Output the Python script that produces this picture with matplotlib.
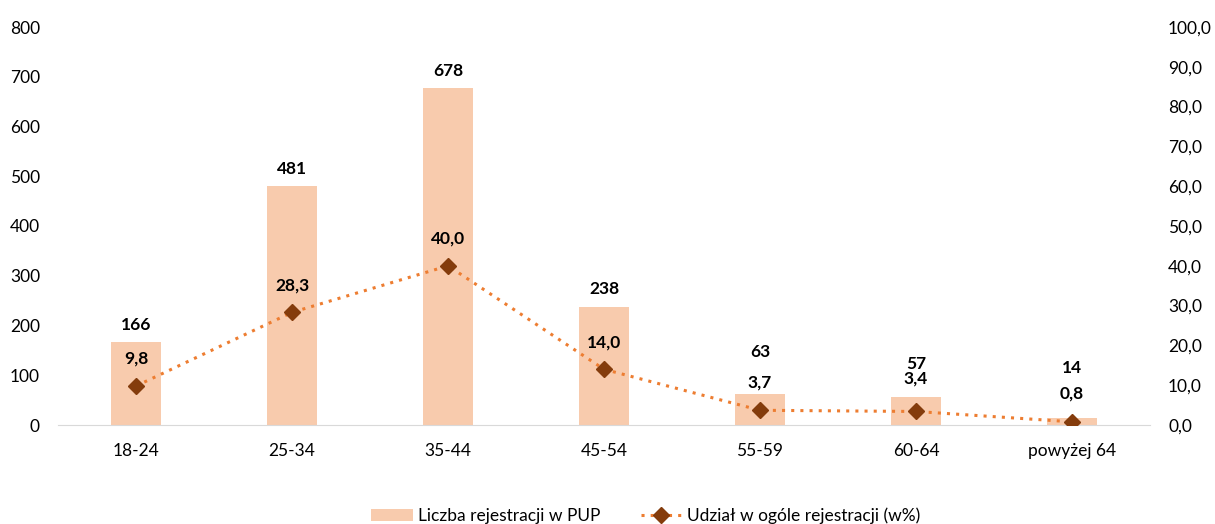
import matplotlib
matplotlib.use("Agg")
import matplotlib.pyplot as plt
from matplotlib.ticker import FuncFormatter

categories = ["18-24", "25-34", "35-44", "45-54", "55-59", "60-64", "powyżej 64"]
counts = [166, 481, 678, 238, 63, 57, 14]
shares = [9.8, 28.3, 40.0, 14.0, 3.7, 3.4, 0.8]

# label offsets in pixels (layout only)
bar_label_offsets = [17, 17, 17, 18, 42, 33, 50]
line_label_offsets = [27, 27, 27, 27, 28, 33, 28]

plt.rcParams['font.family'] = ['Lato', 'DejaVu Sans']

fig = plt.figure(figsize=(12.15, 5.24), dpi=100)
ax = fig.add_axes([58/1215, 1-425/524, (1150-58)/1215, (425-27)/524])
ax2 = ax.twinx()

x = list(range(len(categories)))
bar_color = "#F8CBAD"
line_color = "#ED7D31"
marker_color = "#843C0C"

bars = ax.bar(x, counts, width=0.32, color=bar_color, zorder=1, label="Liczba rejestracji w PUP")
ax.set_ylim(0, 800)
ax.set_xlim(-0.5, len(categories) - 0.5)
ax.set_yticks(range(0, 801, 100))
ax.set_xticks(x)
ax.set_xticklabels(categories)

ln, = ax2.plot(x, shares, linestyle=(0, (1, 2)), color=line_color, linewidth=2.2,
               marker="D", markersize=8, markerfacecolor=marker_color,
               markeredgecolor=marker_color, label="Udział w ogóle rejestracji (w%)", zorder=3)
ax2.set_ylim(0, 100)
ax2.set_yticks(range(0, 101, 10))
ax2.yaxis.set_major_formatter(FuncFormatter(lambda v, p: f"{v:.1f}".replace(".", ",")))

fs = 12.5
for a in (ax, ax2):
    for s in ("top", "left", "right"):
        a.spines[s].set_visible(False)
    a.tick_params(axis="both", length=0, labelsize=fs, colors="#000000")
ax2.spines["bottom"].set_visible(False)
ax.spines["bottom"].set_color("#D9D9D9")
ax.tick_params(axis="x", pad=13)
ax.tick_params(axis="y", pad=13)
ax2.tick_params(axis="y", pad=13)

for xi, c, off in zip(x, counts, bar_label_offsets):
    ax.annotate(str(c), (xi, c), xytext=(0, off), textcoords="offset pixels",
                ha="center", va="center", fontsize=fs, fontweight="bold")
for xi, s, off in zip(x, shares, line_label_offsets):
    ax2.annotate(f"{s:.1f}".replace(".", ","), (xi, s), xytext=(0, off), textcoords="offset pixels",
                 ha="center", va="center", fontsize=fs, fontweight="bold")

ax.set_zorder(ax2.get_zorder() - 1)
ax.patch.set_visible(False)
ax2.patch.set_visible(False)

handles = [bars, ln]
labels = ["Liczba rejestracji w PUP", "Udział w ogóle rejestracji (w%)"]
fig.legend(handles, labels, loc="lower center",
           bbox_to_anchor=(646/1215, -0.03), ncol=2, frameon=False, fontsize=fs,
           handlelength=2.4, columnspacing=2.3, handletextpad=0.3)

fig.savefig("out.png", dpi=100)
